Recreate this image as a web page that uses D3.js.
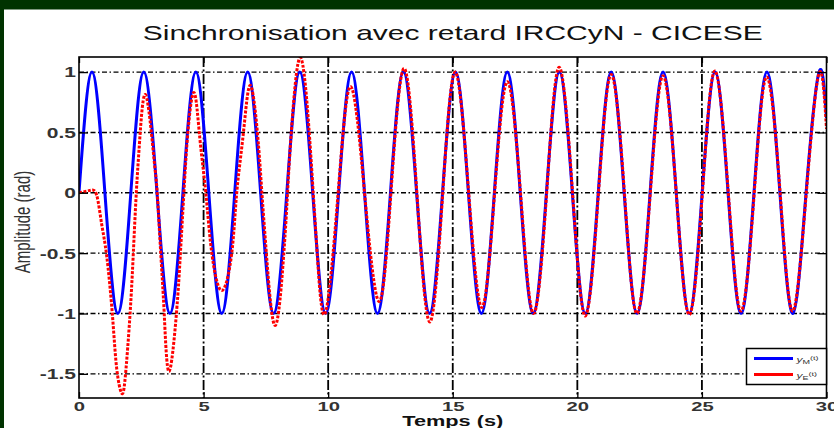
<!DOCTYPE html>
<html>
  <head>
    <meta charset="utf-8">
    <title>Sinchronisation avec retard</title>
    <script src="https://d3js.org/d3.v7.min.js" charset="utf-8"></script>
    <style>
      body{
        margin: 0;
        background: #003300;
        font-family: 'Liberation Sans', Arial, sans-serif;
      }
      svg { display: block; }
      .tick line{ stroke: black; stroke-width: 1.3; }
      .domain{ display: none; }
    </style>
  </head>
  <body>
    <div id="chart"></div>
    <script>

    //********************
    // data
    //********************

    var xTicks = [0, 5, 10, 15, 20, 25, 30];
    var yTicks = [-1.5, -1, -0.5, 0, 0.5, 1];

    // y_M(t): blue reference, extrema and zero crossings
    var tBlue = [0, 0.52, 1.04, 1.56, 2.08, 2.60, 3.13, 3.65, 4.17, 4.69, 5.21, 5.73, 6.25, 6.77, 7.29, 7.81,
                 8.34, 8.86, 9.38, 9.90, 10.42, 10.94, 11.46, 11.98, 12.50, 13.02, 13.55, 14.07, 14.59, 15.11,
                 15.63, 16.15, 16.67, 17.19, 17.71, 18.23, 18.76, 19.28, 19.80, 20.32, 20.84, 21.36, 21.88,
                 22.40, 22.92, 23.44, 23.97, 24.49, 25.01, 25.53, 26.05, 26.57, 27.09, 27.61, 28.13, 28.65,
                 29.18, 29.70, 30.00];
    var yBlue = [0, 1, 0, -1, 0, 1, 0, -1, 0, 1, 0, -1, 0, 1, 0, -1,
                 0, 1, 0, -1, 0, 1, 0, -1, 0, 1, 0, -1, 0, 1,
                 0, -1, 0, 1, 0, -1, 0, 1, 0, -1, 0, 1, 0,
                 -1, 0, 1, 0, -1, 0, 1, 0, -1, 0, 1, 0, -1,
                 0, 1, 0.62];

    // y_E(t): red delayed response
    var tRed = [0, 0.44, 0.71, 0.91, 1.11, 1.34, 1.51, 1.71, 1.86, 2.05,
                2.18, 2.30, 2.44, 2.68, 3.00, 3.14, 3.28, 3.42, 3.61, 3.91,
                4.07, 4.21, 4.37, 4.62, 4.85, 5.09, 5.33, 5.73, 6.13, 6.33,
                6.60, 6.87, 7.16, 7.34, 7.52, 7.87, 8.22, 8.37, 8.52, 8.88,
                9.24, 9.40, 9.56, 9.88, 10.40, 10.90, 11.46, 12.04, 12.52, 13.04,
                13.56, 14.08, 14.60, 15.10, 15.64, 16.17, 16.68, 17.19, 17.72, 18.24,
                18.77, 19.27, 19.81, 20.32, 20.85, 21.36, 21.89, 22.39, 22.93, 23.44,
                23.97, 24.49, 25.02, 25.52, 26.06, 26.57, 27.10, 27.60, 28.14, 28.64,
                29.19, 29.70, 30.00];
    var yRed = [0, 0.02, -0.02, -0.26, -0.52, -1.01, -1.45, -1.66, -1.52, -1.00,
                -0.50, 0.00, 0.45, 0.81, 0.30, 0.00, -0.50, -1.00, -1.48, -1.00,
                -0.50, 0.00, 0.50, 0.83, 0.45, 0.00, -0.50, -0.81, -0.50, 0.00,
                0.50, 0.89, 0.50, 0.00, -0.50, -1.10, -0.50, 0.00, 0.50, 1.12,
                0.50, 0.00, -0.50, -1.00, 0.00, 0.88, 0.00, -0.90, 0.00, 1.03,
                0.00, -1.07, 0.00, 1.00, 0.00, -0.95, 0.00, 0.92, 0.00, -1.00,
                0.00, 1.04, 0.00, -1.02, 0.00, 0.98, 0.00, -1.00, 0.00, 0.97,
                0.00, -1.01, 0.00, 1.01, 0.00, -0.98, 0.00, 0.96, 0.00, -0.98,
                0.00, 0.99, 0.53];

    //********************
    // setup, scales
    //********************

    var width = 834,
        height = 428,
        plot = { left: 79, right: 826.5, top: 57, bottom: 398 };

    var sx = 1.5; // the picture is stretched horizontally, text too

    var svg = d3.select("#chart").append("svg").attr("width", width).attr("height", height);

    svg.append("rect").attr("width", width).attr("height", height).attr("fill", "#003300");
    svg.append("rect").attr("x", 4).attr("y", 9.5).attr("width", width - 4).attr("height", height - 9.5).attr("fill", "white");

    var xScale = d3.scaleLinear().domain([0, 30]).range([plot.left, plot.right]);
    var yScale = d3.scaleLinear().domain([-1.7, 1.125]).range([plot.bottom, plot.top]);

    svg.append("clipPath").attr("id", "clip")
      .append("rect")
      .attr("x", plot.left).attr("y", plot.top)
      .attr("width", plot.right - plot.left).attr("height", plot.bottom - plot.top);

    //******
    // grid
    //******

    var grid = svg.append("g");

    grid.selectAll("line.hgrid")
      .data(yTicks)
      .enter().append("line").attr("class", "hgrid")
      .attr("x1", plot.left).attr("x2", plot.right)
      .attr("y1", d => yScale(d)).attr("y2", d => yScale(d))
      .attr("stroke", "black")
      .attr("stroke-width", 1.4)
      .attr("stroke-dasharray", "5,2.5,1.5,2.5");

    grid.selectAll("line.vgrid")
      .data(xTicks.filter(d => d > 0 && d < 30))
      .enter().append("line").attr("class", "vgrid")
      .attr("x1", d => xScale(d)).attr("x2", d => xScale(d))
      .attr("y1", plot.top).attr("y2", plot.bottom)
      .attr("stroke", "black")
      .attr("stroke-width", 1.8)
      .attr("stroke-dasharray", "10,2.5,2,2.5");

    //*******
    // lines
    //*******

    var blueData = tBlue.map((t, i) => ({ t: t, v: yBlue[i] }));
    var redData = tRed.map((t, i) => ({ t: t, v: yRed[i] }));

    var line = d3.line()
      .curve(d3.curveNatural)
      .x(d => xScale(d.t))
      .y(d => yScale(d.v));

    var lines = svg.append("g").attr("clip-path", "url(#clip)");

    lines.append("path")
      .datum(blueData)
      .attr("fill", "none")
      .attr("stroke", "#0000ff")
      .attr("stroke-width", 3)
      .attr("stroke-linejoin", "round")
      .attr("d", line);

    lines.append("path")
      .datum(redData)
      .attr("fill", "none")
      .attr("stroke", "#ff0000")
      .attr("stroke-width", 3)
      .attr("stroke-dasharray", "3,1.5")
      .attr("d", line);

    //******
    // axes
    //******

    var yAxis = svg.append("g")
      .attr("transform", `translate(${plot.left},0)`)
      .call(d3.axisLeft(yScale).tickValues(yTicks).tickSize(-9).tickSizeOuter(0).tickFormat(d => String(d)));

    yAxis.selectAll(".tick text")
      .attr("x", null).attr("dy", "0.35em")
      .attr("transform", `translate(-3,0) scale(${sx},1)`)
      .attr("fill", "#333")
      .style("font-size", "14px")
      .style("font-weight", 700)
      .style("font-family", "'Liberation Sans', Arial, sans-serif");

    var xAxis = svg.append("g")
      .attr("transform", `translate(0,${plot.bottom})`)
      .call(d3.axisBottom(xScale).tickValues(xTicks).tickSize(-6).tickSizeOuter(0).tickFormat(d => String(d)));

    xAxis.selectAll(".tick text")
      .attr("y", null).attr("dy", null)
      .attr("transform", `translate(0,13) scale(${sx},1)`)
      .attr("fill", "#333")
      .style("font-size", "13.5px")
      .style("font-weight", 700)
      .style("font-family", "'Liberation Sans', Arial, sans-serif");

    svg.append("g")
      .attr("transform", `translate(${plot.right},0)`)
      .call(d3.axisRight(yScale).tickValues(yTicks).tickSize(-9).tickSizeOuter(0).tickFormat(""));

    svg.append("g")
      .attr("transform", `translate(0,${plot.top})`)
      .call(d3.axisTop(xScale).tickValues(xTicks).tickSize(-6).tickSizeOuter(0).tickFormat(""));

    svg.append("rect")
      .attr("x", plot.left).attr("y", plot.top)
      .attr("width", plot.right - plot.left).attr("height", plot.bottom - plot.top)
      .attr("fill", "none")
      .attr("stroke", "black")
      .attr("stroke-width", 1.6);

    //********
    // labels
    //********

    svg.append("text")
      .attr("transform", `translate(${(plot.left + plot.right) / 2},40) scale(${sx},1)`)
      .attr("text-anchor", "middle")
      .attr("fill", "#111")
      .style("font-size", "20px")
      .text("Sinchronisation avec retard IRCCyN - CICESE");

    svg.append("text")
      .attr("transform", `translate(${(plot.left + plot.right) / 2},426) scale(${sx},1)`)
      .attr("text-anchor", "middle")
      .attr("fill", "#111")
      .style("font-size", "14.5px")
      .style("font-weight", 700)
      .text("Temps (s)");

    svg.append("text")
      .attr("transform", `translate(30,222) scale(${sx},1) rotate(-90)`)
      .attr("text-anchor", "middle")
      .attr("fill", "#333")
      .style("font-size", "15px")
      .text("Amplitude (rad)");

    //********
    // legend
    //********

    var legendData = [{ name: "M", color: "#0000ff" }, { name: "E", color: "#ff0000" }];
    var legend = svg.append("g").attr("transform", "translate(746.5,348.5)");

    legend.append("rect")
      .attr("width", 80).attr("height", 36)
      .attr("fill", "white")
      .attr("stroke", "black")
      .attr("stroke-width", 1.5);

    legend.selectAll("line.legend")
      .data(legendData)
      .enter().append("line").attr("class", "legend")
      .attr("x1", 7.5).attr("x2", 46.5)
      .attr("y1", (d, i) => 10 + i * 16).attr("y2", (d, i) => 10 + i * 16)
      .attr("stroke", d => d.color)
      .attr("stroke-width", 3);

    var ltext = legend.selectAll("text.legend")
      .data(legendData)
      .enter().append("text").attr("class", "legend")
      .attr("transform", (d, i) => `translate(50,${13 + i * 16}) scale(${sx},1)`)
      .attr("fill", "#333")
      .style("font-size", "8px");

    ltext.append("tspan").style("font-style", "italic").text("y");
    ltext.append("tspan").attr("dy", 2).style("font-size", "6px").text(d => d.name);
    ltext.append("tspan").attr("dy", -4).style("font-size", "6px").text("(t)");

    </script>
  </body>
</html>
